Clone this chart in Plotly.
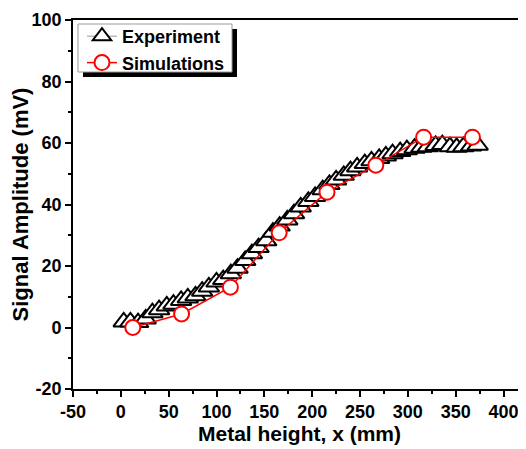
import plotly.graph_objects as go

exp_x = [3, 10, 18, 26, 33, 40, 48, 55, 63, 70, 78, 85, 92, 100, 107, 115, 122, 130,
         137, 144, 152, 159, 166, 174, 181, 188, 196, 203, 211, 218, 225, 233, 240,
         247, 255, 262, 270, 277, 284, 292, 299, 307, 314, 321, 329, 336, 344, 351,
         358, 366, 373]
exp_y = [1.8, 1.8, 1.6, 2.8, 4.8, 5.8, 7.0, 7.6, 8.8, 9.6, 10.3, 11.8, 13.2, 14.8,
         15.6, 17.5, 19.3, 21.8, 24.0, 26.0, 28.2, 31.0, 33.0, 35.0, 37.0, 39.2, 41.0,
         42.6, 44.8, 46.5, 48.0, 49.5, 51.0, 52.2, 53.3, 54.2, 55.0, 55.8, 56.5, 57.2,
         57.8, 58.3, 58.6, 58.8, 59.2, 59.5, 58.8, 58.6, 58.8, 59.0, 59.3]

sim_x = [12.5, 63.5, 114.5, 165.5, 215.5, 266.5, 316.5, 367.5]
sim_y = [0.0, 4.4, 13.1, 30.8, 44.0, 52.8, 61.9, 61.9]

x_tickvals = [-50, 0, 50, 100, 150, 200, 250, 300, 350, 400]
x_ticktext = ["-50", "0", "50", "100", "150", "200", "250", "300", "350", "400"]
y_tickvals = [-20, 0, 20, 40, 60, 80, 100]
y_ticktext = ["-20", "0", "20", "40", "60", "80", "100"]

FONT = "Liberation Sans, Arial, sans-serif"
OFF = 8  # default page body margin
W, H = 526 - OFF, 449 - OFF
L, R, T, B = 73 - OFF, 0, 20 - OFF, 60
PW, PH = W - L - R, H - T - B


def px_x(p):
    return (p - OFF - L) / PW


def px_y(p):
    return (H - B - (p - OFF)) / PH


fig = go.Figure()
fig.add_trace(go.Scatter(
    x=exp_x, y=exp_y, name="Experiment", mode="lines+markers",
    line=dict(color="#999999", width=1),
    marker=dict(symbol="triangle-up", size=18, color="white",
                line=dict(color="black", width=2)),
))
fig.add_trace(go.Scatter(
    x=sim_x, y=sim_y, name="Simulations", mode="lines+markers",
    line=dict(color="red", width=1.5),
    marker=dict(symbol="circle", size=15, color="white",
                line=dict(color="red", width=2)),
))

axis_common = dict(
    showline=True, linecolor="black", linewidth=1.6,
    ticks="outside", ticklen=6, tickwidth=1.6, tickcolor="black",
    showgrid=False, zeroline=False, automargin=False,
    tickfont=dict(family=FONT, size=18, color="black", weight="bold"),
)

fig.update_xaxes(
    range=[-50, 423.5], tickmode="array", tickvals=x_tickvals, ticktext=x_ticktext,
    mirror=True,
    minor=dict(dtick=25, tick0=0, ticks="outside", ticklen=3, tickwidth=1.6,
               tickcolor="black"),
    title=dict(text="Metal height, x (mm)", standoff=5,
               font=dict(family=FONT, size=21, color="black", weight="bold")),
    **axis_common,
)
fig.update_yaxes(
    range=[-20, 100], tickmode="array", tickvals=y_tickvals, ticktext=y_ticktext,
    mirror=False,
    minor=dict(dtick=10, tick0=0, ticks="outside", ticklen=3, tickwidth=1.6,
               tickcolor="black"),
    title=dict(text="Signal Amplitude (mV)", standoff=0,
               font=dict(family=FONT, size=22, color="black", weight="bold")),
    **axis_common,
)

fig.update_layout(
    width=W, height=H,
    margin=dict(l=L, r=R, t=T, b=B),
    paper_bgcolor="white", plot_bgcolor="white",
    showlegend=True,
    legend=dict(
        x=px_x(82), y=px_y(18), xanchor="left", yanchor="top",
        bgcolor="rgba(0,0,0,0)", borderwidth=0,
        font=dict(family=FONT, size=18, color="black", weight="bold"),
        tracegroupgap=0,
    ),
    shapes=[
        dict(type="rect", xref="paper", yref="paper", layer="above",
             x0=px_x(83), x1=px_x(237), y0=px_y(77), y1=px_y(29),
             fillcolor="black", line=dict(width=0)),
        dict(type="rect", xref="paper", yref="paper", layer="above",
             x0=px_x(78), x1=px_x(232), y0=px_y(72), y1=px_y(24),
             fillcolor="white", line=dict(color="#999999", width=1)),
    ],
)

fig.write_html("out.html")
